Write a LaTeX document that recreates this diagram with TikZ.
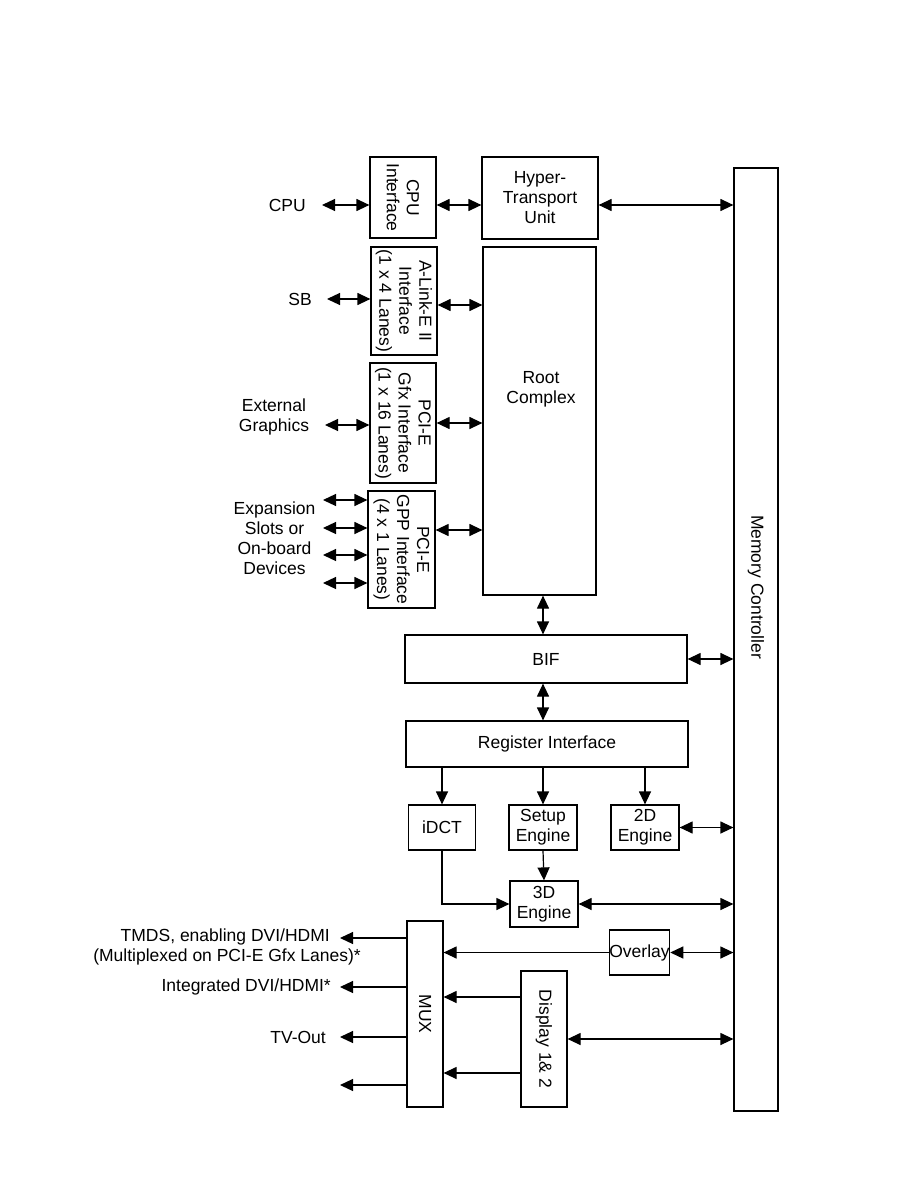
\documentclass[tikz,border=0pt]{standalone}
\usepackage{fontspec}
\setmainfont{Liberation Sans}
\usetikzlibrary{arrows.meta}
\begin{document}
\begin{tikzpicture}[x=1pt,y=-1pt,
  blk/.style={draw,line width=1.2pt,inner sep=0pt,align=center,font=\fontsize{17.5}{20}\selectfont},
  vtxt/.style={rotate=-90,inner sep=0pt,align=center,font=\fontsize{17.5}{20}\selectfont},
  lbl/.style={inner sep=0pt,font=\fontsize{17.5}{20}\selectfont},
  dbl/.style={line width=1.2pt,{Triangle[length=13pt,width=12pt]}-{Triangle[length=13pt,width=12pt]}},
  sgl/.style={line width=1.2pt,-{Triangle[length=13pt,width=12pt]}}]
\useasboundingbox (0,0) rectangle (918,1188);
% blocks
\node[blk,minimum width=66pt,minimum height=81pt,label={[vtxt]center:CPU\\Interface}] (cpuif) at (403,197.5) {};
\node[blk,minimum width=116pt,minimum height=82pt] (ht) at (540,198) {Hyper-\\Transport\\Unit};
\node[blk,minimum width=44pt,minimum height=943pt] (mc) at (756,639.5) {};
\node[vtxt] (mctxt) at (756,587) {Memory Controller}; %label
\node[blk,minimum width=66pt,minimum height=108pt,label={[vtxt]center:A-Link-E II\\Interface\\(1 x 4 Lanes)}] (alink) at (404,301) {};
\node[blk,minimum width=113pt,minimum height=348pt] (root) at (539.5,421) {};
\node[lbl,align=center] (roottxt) at (541,389) {Root\\Complex}; %label
\node[blk,minimum width=66pt,minimum height=120pt,label={[vtxt]center:PCI-E\\Gfx Interface\\(1 x 16 Lanes)}] (gfx) at (403,423) {};
\node[blk,minimum width=67pt,minimum height=117pt,label={[vtxt]center:PCI-E\\GPP Interface\\(4 x 1 Lanes)}] (gpp) at (401.5,549.5) {};
\node[blk,minimum width=282pt,minimum height=48pt] (bif) at (546,659) {BIF};
\node[blk,minimum width=282pt,minimum height=46pt] (reg) at (547,744) {Register Interface};
\node[blk,minimum width=67pt,minimum height=45pt] (idct) at (442,827.5) {iDCT};
\node[blk,minimum width=68pt,minimum height=45pt] (setup) at (543,827.5) {Setup\\Engine};
\node[blk,minimum width=68pt,minimum height=45pt] (twod) at (645,827.5) {2D\\Engine};
\node[blk,minimum width=68pt,minimum height=46pt] (threed) at (544,904) {3D\\Engine};
\node[blk,minimum width=36pt,minimum height=186pt,label={[vtxt]center:MUX}] (mux) at (425,1014) {};
\node[blk,minimum width=55pt,minimum height=45pt] (overlay) at (639.5,952.5) {Overlay};
\node[blk,minimum width=46pt,minimum height=136pt,label={[vtxt]center:Display 1\& 2}] (disp) at (544,1039) {};
% outside labels
\node[lbl,anchor=east] (cpu) at (306,205) {CPU}; %label
\node[lbl,anchor=east] (sb) at (312,299) {SB}; %label
\node[lbl,align=center] (extgfx) at (274,417) {External\\Graphics}; %label
\node[lbl,align=center] (expslots) at (274.5,538) {Expansion\\Slots or\\On-board\\Devices}; %label
\node[lbl,align=right,anchor=east] (tmds) at (361,947) {TMDS, enabling DVI/HDMI\hspace*{31pt}\\(Multiplexed on PCI-E Gfx Lanes)*}; %label
\node[lbl,anchor=east] (integ) at (331,987) {Integrated DVI/HDMI*}; %label
\node[lbl,anchor=east] (tvout) at (326,1037) {TV-Out}; %label
% links on the left
\coordinate (cpuL) at (322,205);
\coordinate (sbL) at (327,299);
\coordinate (gfxL) at (325,425);
\draw[dbl] (cpuL) -- (cpuL -| cpuif.west);
\draw[dbl] (cpuif.east |- cpuL) -- (ht.west |- cpuL);
\draw[dbl] (ht.east |- cpuL) -- (mc.west |- cpuL);
\draw[dbl] (sbL) -- (sbL -| alink.west);
\draw[dbl] ([yshift=-4pt]alink.east) -- ([yshift=-4pt]alink.east -| root.west);
\draw[dbl] (gfxL) -- (gfxL -| gfx.west);
\draw[dbl] (gfx.east) -- (gfx.east -| root.west);
\foreach \y/\n in {500/1,528/2,555/3,583/4} {
  \coordinate (exp\n) at (323,\y);
  \draw[dbl] (exp\n) -- (exp\n -| gpp.west);
}
\draw[dbl] ([yshift=19.5pt]gpp.east) -- ([yshift=19.5pt]gpp.east -| root.west);
% middle column
\draw[dbl] (root.south -| setup) -- (bif.north -| setup);
\draw[dbl] (bif.east) -- (bif.east -| mc.west);
\draw[dbl] (bif.south -| setup) -- (reg.north -| setup);
\draw[sgl] (reg.south -| idct) -- (idct.north);
\draw[sgl] (reg.south -| setup) -- (setup.north);
\draw[sgl] (reg.south -| twod) -- (twod.north);
\draw[dbl] (twod.east) -- (twod.east -| mc.west);
\draw[sgl] (setup.south) -- (threed.north);
\draw[sgl] (idct.south) |- (threed.west);
\draw[dbl] (threed.east) -- (threed.east -| mc.west);
% display path
\draw[sgl] (overlay.west) -- (overlay.west -| mux.east);
\draw[dbl] (overlay.east) -- (overlay.east -| mc.west);
\draw[sgl] ([yshift=42pt]disp.west) -- ([yshift=42pt]disp.west -| mux.east);
\draw[sgl] ([yshift=-34pt]disp.west) -- ([yshift=-34pt]disp.west -| mux.east);
\draw[dbl] (disp.east) -- (disp.east -| mc.west);
\foreach \y/\n in {938/1,987/2,1037/3,1085/4} {
  \coordinate (out\n) at (340,\y);
  \draw[sgl] (mux.west |- out\n) -- (out\n);
}
\end{tikzpicture}
\end{document}
